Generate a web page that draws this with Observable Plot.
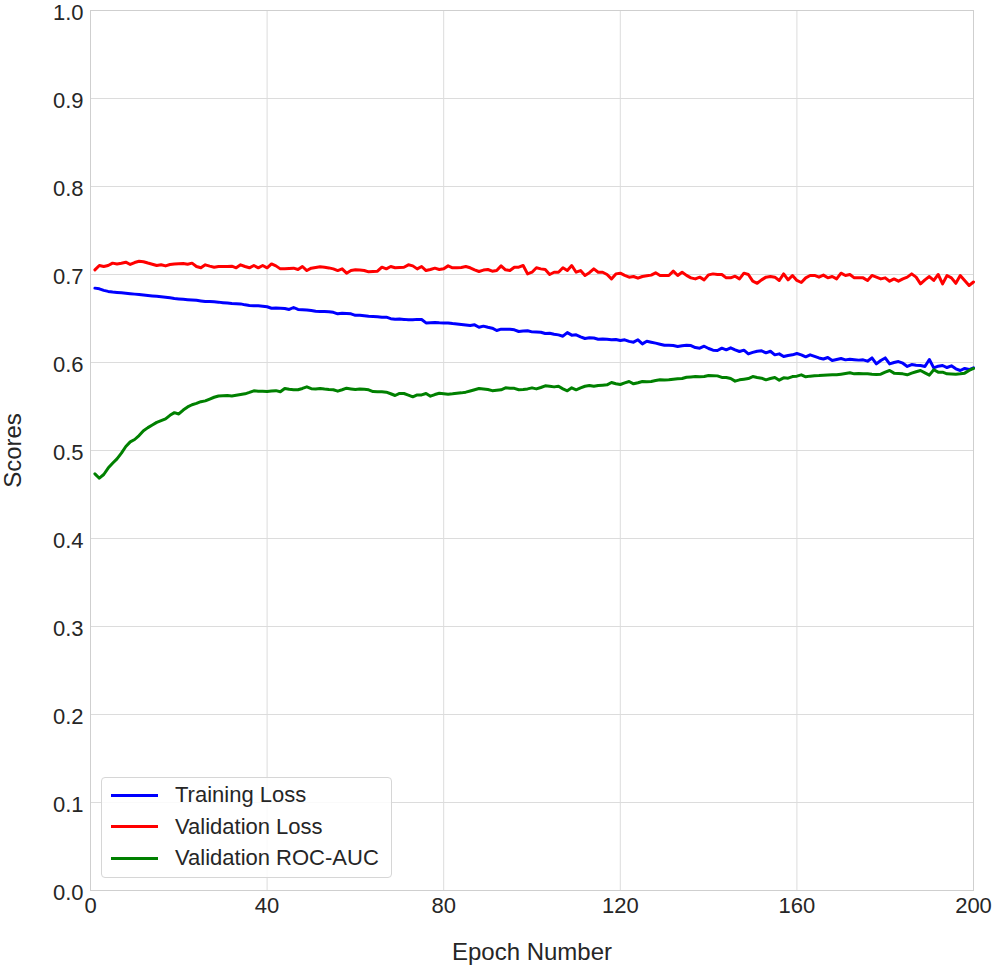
<!DOCTYPE html>
<html>
<head>
<meta charset="utf-8">
<script src="https://cdn.jsdelivr.net/npm/d3@7"></script>
<script src="https://cdn.jsdelivr.net/npm/@observablehq/plot@0.6"></script>
<style>
  body { margin: 0; background: #ffffff; }
  #wrap { position: relative; width: 994px; height: 968px; font-family: "Liberation Sans", Arial, sans-serif; }
  #legend { position: absolute; left: 101px; top: 777px; width: 291px; height: 101px; box-sizing: border-box;
            border: 1px solid #d6d6d6; border-radius: 4px; background: rgba(255,255,255,0.85);
            font-size: 22px; color: #262626; }
  .row { position: absolute; left: 0; height: 26px; line-height: 26px; width: 100%; }
  .swatch { position: absolute; left: 9px; top: 11.5px; width: 47px; height: 3px; }
  .lab { position: absolute; left: 73px; top: 0; white-space: nowrap; }
</style>
</head>
<body>
<div id="wrap"></div>
<script>
const seriesNames = ["Training Loss", "Validation Loss", "Validation ROC-AUC"];
const seriesColors = ["#0000ff", "#ff0000", "#008000"];
const xTicks = [0, 40, 80, 120, 160, 200];
const yTicks = [0.0, 0.1, 0.2, 0.3, 0.4, 0.5, 0.6, 0.7, 0.8, 0.9, 1.0];
const epochs = d3.range(1, 201);

const trainingLoss = [
0.6845,0.6837,0.6820,0.6808,0.6800,0.6796,0.6793,0.6788,0.6782,0.6777,
0.6773,0.6767,0.6762,0.6757,0.6752,0.6747,0.6742,0.6735,0.6727,0.6722,
0.6718,0.6714,0.6711,0.6707,0.6700,0.6693,0.6694,0.6690,0.6686,0.6680,
0.6675,0.6670,0.6668,0.6666,0.6655,0.6648,0.6644,0.6644,0.6640,0.6633,
0.6617,0.6618,0.6616,0.6614,0.6603,0.6625,0.6603,0.6600,0.6597,0.6591,
0.6583,0.6580,0.6580,0.6577,0.6570,0.6553,0.6560,0.6558,0.6553,0.6536,
0.6538,0.6532,0.6526,0.6524,0.6521,0.6515,0.6515,0.6498,0.6492,0.6493,
0.6490,0.6485,0.6485,0.6490,0.6488,0.6450,0.6452,0.6454,0.6451,0.6450,
0.6450,0.6442,0.6438,0.6432,0.6426,0.6420,0.6428,0.6400,0.6413,0.6400,
0.6390,0.6364,0.6379,0.6379,0.6378,0.6371,0.6352,0.6357,0.6360,0.6348,
0.6346,0.6344,0.6329,0.6333,0.6322,0.6314,0.6299,0.6340,0.6311,0.6314,
0.6292,0.6273,0.6280,0.6278,0.6265,0.6268,0.6264,0.6258,0.6262,0.6250,
0.6258,0.6240,0.6231,0.6258,0.6212,0.6242,0.6231,0.6220,0.6208,0.6196,
0.6195,0.6193,0.6182,0.6190,0.6196,0.6193,0.6170,0.6163,0.6185,0.6159,
0.6140,0.6136,0.6163,0.6144,0.6167,0.6144,0.6125,0.6140,0.6098,0.6115,
0.6128,0.6133,0.6110,0.6128,0.6087,0.6098,0.6068,0.6080,0.6087,0.6102,
0.6087,0.6064,0.6087,0.6070,0.6052,0.6040,0.6057,0.6023,0.6034,0.6045,
0.6030,0.6038,0.6032,0.6027,0.6030,0.6015,0.6052,0.5984,0.6023,0.6052,
0.5984,0.6000,0.6011,0.5992,0.5955,0.5977,0.5970,0.5966,0.5955,0.6034,
0.5939,0.5958,0.5966,0.5943,0.5962,0.5928,0.5909,0.5932,0.5920,0.5939
];

const validationLoss = [
0.7053,0.7102,0.7091,0.7102,0.7129,0.7120,0.7128,0.7140,0.7114,0.7136,
0.7150,0.7145,0.7130,0.7117,0.7102,0.7110,0.7098,0.7114,0.7120,0.7122,
0.7125,0.7117,0.7129,0.7091,0.7076,0.7110,0.7095,0.7083,0.7091,0.7091,
0.7091,0.7095,0.7076,0.7110,0.7091,0.7076,0.7102,0.7076,0.7102,0.7076,
0.7120,0.7098,0.7064,0.7064,0.7068,0.7072,0.7057,0.7091,0.7045,0.7072,
0.7080,0.7087,0.7083,0.7075,0.7064,0.7045,0.7064,0.7015,0.7045,0.7053,
0.7050,0.7045,0.7030,0.7035,0.7038,0.7083,0.7064,0.7091,0.7076,0.7080,
0.7083,0.7110,0.7098,0.7064,0.7091,0.7045,0.7057,0.7072,0.7057,0.7065,
0.7098,0.7076,0.7076,0.7080,0.7091,0.7076,0.7053,0.7034,0.7050,0.7057,
0.7038,0.7045,0.7098,0.7053,0.7045,0.7083,0.7083,0.7102,0.7007,0.7026,
0.7076,0.7064,0.7057,0.7000,0.7026,0.7026,0.7076,0.7045,0.7102,0.7026,
0.7045,0.6989,0.7020,0.7064,0.7026,0.7026,0.7000,0.6950,0.7007,0.7015,
0.6990,0.6970,0.6977,0.6958,0.6977,0.6985,0.6993,0.7019,0.6989,0.6989,
0.6989,0.7038,0.6989,0.7026,0.6990,0.6962,0.6950,0.6970,0.6939,0.6996,
0.7007,0.7000,0.7000,0.6962,0.6962,0.6981,0.6950,0.7015,0.7000,0.6924,
0.6900,0.6939,0.6970,0.6977,0.6970,0.6932,0.7007,0.6939,0.6989,0.6932,
0.6909,0.6962,0.6989,0.6989,0.6970,0.6993,0.6962,0.6977,0.6950,0.7015,
0.6989,0.7000,0.6962,0.6962,0.6962,0.6932,0.6989,0.6970,0.6950,0.6962,
0.6924,0.6950,0.6924,0.6950,0.6970,0.7007,0.6970,0.6894,0.6939,0.6977,
0.6932,0.7000,0.6894,0.6989,0.6962,0.6900,0.6989,0.6932,0.6875,0.6915
];

const validationRocAuc = [
0.4735,0.4685,0.4727,0.4800,0.4855,0.4905,0.4970,0.5045,0.5098,0.5125,
0.5170,0.5225,0.5260,0.5290,0.5320,0.5340,0.5360,0.5400,0.5430,0.5415,
0.5460,0.5495,0.5520,0.5535,0.5555,0.5564,0.5585,0.5605,0.5620,0.5622,
0.5625,0.5620,0.5628,0.5636,0.5644,0.5660,0.5678,0.5674,0.5672,0.5670,
0.5675,0.5680,0.5667,0.5705,0.5695,0.5690,0.5690,0.5705,0.5723,0.5702,
0.5700,0.5705,0.5698,0.5693,0.5690,0.5674,0.5690,0.5708,0.5700,0.5693,
0.5700,0.5695,0.5690,0.5670,0.5668,0.5667,0.5663,0.5645,0.5625,0.5648,
0.5648,0.5630,0.5610,0.5632,0.5632,0.5648,0.5617,0.5636,0.5651,0.5645,
0.5640,0.5644,0.5650,0.5655,0.5663,0.5676,0.5690,0.5705,0.5700,0.5693,
0.5680,0.5685,0.5690,0.5712,0.5708,0.5706,0.5690,0.5693,0.5700,0.5712,
0.5700,0.5716,0.5735,0.5730,0.5723,0.5730,0.5700,0.5678,0.5712,0.5690,
0.5712,0.5730,0.5739,0.5730,0.5739,0.5742,0.5746,0.5773,0.5758,0.5750,
0.5768,0.5784,0.5758,0.5770,0.5784,0.5780,0.5785,0.5795,0.5803,0.5800,
0.5803,0.5810,0.5815,0.5818,0.5833,0.5836,0.5840,0.5837,0.5840,0.5852,
0.5850,0.5848,0.5830,0.5830,0.5818,0.5788,0.5803,0.5810,0.5818,0.5840,
0.5830,0.5822,0.5803,0.5818,0.5830,0.5799,0.5826,0.5822,0.5840,0.5845,
0.5860,0.5837,0.5845,0.5850,0.5852,0.5856,0.5858,0.5860,0.5860,0.5867,
0.5875,0.5883,0.5871,0.5875,0.5873,0.5871,0.5866,0.5864,0.5867,0.5890,
0.5909,0.5879,0.5875,0.5871,0.5860,0.5879,0.5895,0.5909,0.5883,0.5856,
0.5917,0.5890,0.5890,0.5871,0.5870,0.5867,0.5871,0.5879,0.5909,0.5932
];

const seriesValues = [trainingLoss, validationLoss, validationRocAuc];
const rows = [];
seriesNames.forEach((name, i) => {
  epochs.forEach((e, j) => rows.push({epoch: e, value: seriesValues[i][j], series: name}));
});

const textColor = "#262626";
const chart = Plot.plot({
  width: 994,
  height: 968,
  marginLeft: 90,
  marginRight: 21,
  marginTop: 10,
  marginBottom: 78,
  style: {fontFamily: "'Liberation Sans', Arial, sans-serif", fontSize: "22px", color: textColor, background: "#ffffff", overflow: "visible"},
  x: {domain: [0, 200]},
  y: {domain: [0, 1]},
  color: {domain: seriesNames, range: seriesColors},
  marks: [
    Plot.gridX(xTicks, {stroke: "#dcdcdc", strokeOpacity: 1, strokeWidth: 1}),
    Plot.gridY(yTicks, {stroke: "#dcdcdc", strokeOpacity: 1, strokeWidth: 1}),
    Plot.frame({stroke: "#cfcfcf", strokeWidth: 1}),
    Plot.axisX(xTicks, {tickSize: 0, tickPadding: 7, label: null, fontSize: 22, fill: textColor}),
    Plot.axisY(yTicks, {tickSize: 0, tickPadding: 7, dy: 2, label: null, fontSize: 22, fill: textColor, tickFormat: d3.format(".1f")}),
    Plot.line(rows, {x: "epoch", y: "value", z: "series", stroke: "series", strokeWidth: 3, strokeLinejoin: "round", strokeLinecap: "round"}),
    Plot.text(["Epoch Number"], {text: d => d, frameAnchor: "bottom", textAnchor: "middle", lineAnchor: "middle", dy: 62, fontSize: 24, fill: textColor}),
    Plot.text(["Scores"], {text: d => d, frameAnchor: "left", textAnchor: "middle", lineAnchor: "middle", dx: -77, rotate: -90, fontSize: 24, fill: textColor})
  ]
});

const wrap = document.getElementById("wrap");
wrap.appendChild(chart);

const legend = document.createElement("div");
legend.id = "legend";
const centers = [17, 48.5, 80];
seriesNames.forEach((name, i) => {
  const row = document.createElement("div");
  row.className = "row";
  row.style.top = (centers[i] - 13) + "px";
  const sw = document.createElement("div");
  sw.className = "swatch";
  sw.style.background = seriesColors[i];
  const lab = document.createElement("div");
  lab.className = "lab";
  lab.textContent = name;
  row.appendChild(sw);
  row.appendChild(lab);
  legend.appendChild(row);
});
wrap.appendChild(legend);
</script>
</body>
</html>
